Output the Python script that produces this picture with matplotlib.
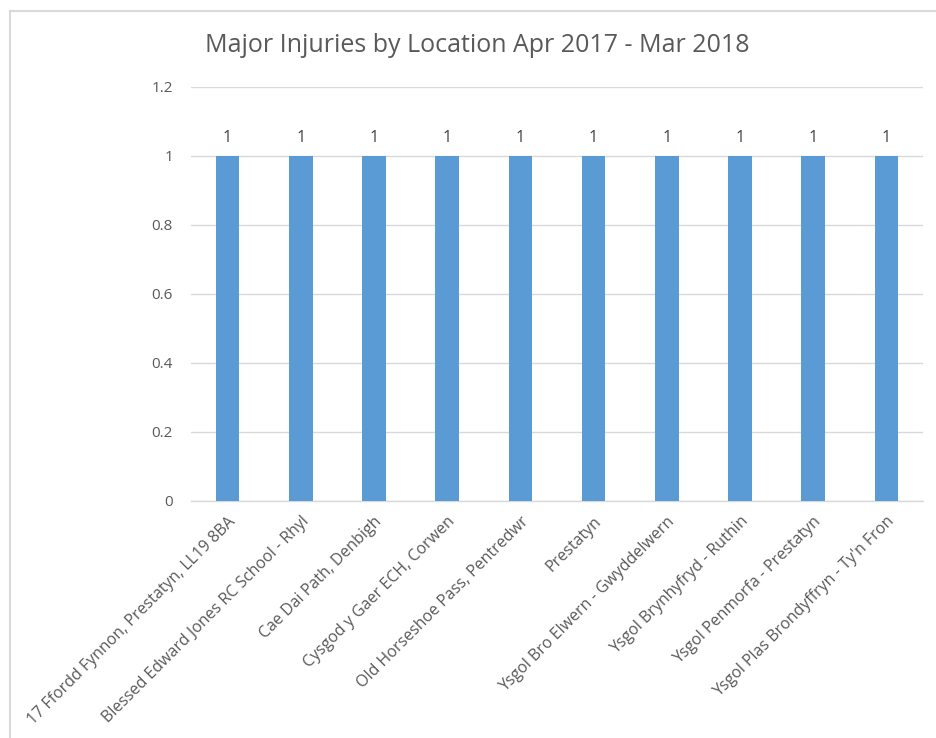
import matplotlib
matplotlib.use("Agg")
import matplotlib.pyplot as plt
from matplotlib.lines import Line2D

categories = [
    "17 Ffordd Fynnon, Prestatyn, LL19 8BA",
    "Blessed Edward Jones RC School - Rhyl",
    "Cae Dai Path, Denbigh",
    "Cysgod y Gaer ECH, Corwen",
    "Old Horseshoe Pass, Pentredwr",
    "Prestatyn",
    "Ysgol Bro Elwern - Gwyddelwern",
    "Ysgol Brynhyfryd - Ruthin",
    "Ysgol Penmorfa - Prestatyn",
    "Ysgol Plas Brondyffryn - Ty'n Fron",
]
values = [1, 1, 1, 1, 1, 1, 1, 1, 1, 1]
yticks = [0, 0.2, 0.4, 0.6, 0.8, 1, 1.2]
ytick_labels = ["0", "0.2", "0.4", "0.6", "0.8", "1", "1.2"]
title = "Major Injuries by Location Apr 2017 - Mar 2018"

W, H = 936, 738
fig = plt.figure(figsize=(W / 100, H / 100), dpi=100)
fig.patch.set_facecolor("white")

ax = fig.add_axes([191 / W, 1 - 501 / H, (923 - 191) / W, (501 - 87) / H])
x = list(range(len(categories)))
bars = ax.bar(x, values, width=0.32, color="#5b9bd5", zorder=3)
ax.set_xlim(-0.5, len(categories) - 0.5)
ax.set_ylim(0, 1.2)
ax.set_yticks(yticks)
ax.set_yticklabels(ytick_labels, fontsize=11, color="#595959", family="Open Sans")
ax.tick_params(axis="y", length=0, pad=13)
ax.tick_params(axis="x", length=0, pad=9)
ax.set_xticks(x)
ax.set_xticklabels(categories, rotation=45, ha="right", rotation_mode="anchor",
                   fontsize=11.5, color="#595959", family="Open Sans")
ax.grid(axis="y", color="#d9d9d9", linewidth=1, zorder=0)
for s in ["top", "right", "left"]:
    ax.spines[s].set_visible(False)
ax.spines["bottom"].set_color("#d9d9d9")
ax.spines["bottom"].set_linewidth(1)

for xi, v in zip(x, values):
    ax.annotate(f"{v:g}", (xi, v), xytext=(0, 7), textcoords="offset points",
                ha="center", va="bottom", fontsize=11.5, color="#404040", family="Open Sans")

fig.text((205 + 750) / 2 / W, 1 - 46 / H, title, ha="center", va="center",
         fontsize=18, color="#595959", family="Open Sans", fontweight="normal")

# chart border
fig.add_artist(Line2D([10 / W, 1], [1 - 11 / H, 1 - 11 / H], color="#d9d9d9", linewidth=1.5,
                      transform=fig.transFigure))
fig.add_artist(Line2D([10 / W, 10 / W], [0, 1 - 11 / H], color="#d9d9d9", linewidth=1.5,
                      transform=fig.transFigure))

fig.savefig("out.png", dpi=100, facecolor="white")
